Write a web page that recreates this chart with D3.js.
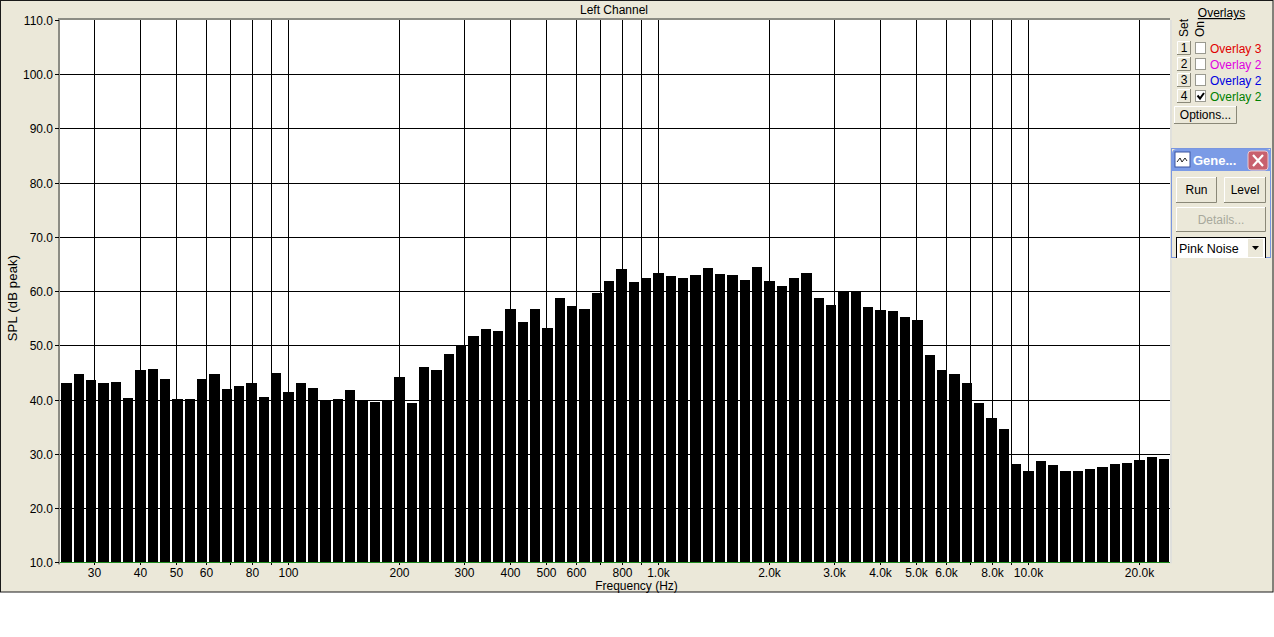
<!DOCTYPE html>
<html><head><meta charset="utf-8">
<script src="https://cdnjs.cloudflare.com/ajax/libs/d3/7.8.5/d3.min.js"></script>
<style>
html,body{margin:0;padding:0;background:#fff;overflow:hidden}
svg{display:block}
text{font-family:"Liberation Sans",Arial,sans-serif;font-size:12px;fill:#000}
</style></head><body><svg id="c" width="1274" height="637"></svg>
<script>
const frequencies=[25.12,27.12,29.29,31.62,34.15,36.87,39.81,42.99,46.42,50.12,54.12,58.43,63.10,68.13,73.56,79.43,85.77,92.61,
100,107.98,116.59,125.89,135.94,146.78,158.49,171.13,184.79,199.53,215.44,232.63,251.19,271.23,292.87,316.23,341.46,368.7,398.11,429.87,464.16,501.19,541.17,584.35,630.96,681.29,735.64,794.33,857.7,926.12,
1000,1079.8,1165.9,1258.9,1359.4,1467.8,1584.9,1711.3,1847.8,1995.3,2154.4,2326.3,2511.9,2712.3,2928.7,3162.3,3414.6,3687,3981.1,4298.7,4641.6,5011.9,5411.7,5843.5,6309.6,6812.9,7356.4,7943.3,8577,9261.2,
10000,10798,11659,12589,13594,14678,15849,17113,18478,19953,21544,23263];
const splValues=[43.2,44.7,43.6,43.2,43.4,40.4,45.6,45.8,43.9,40.2,40.2,43.9,44.7,42.1,42.6,43.2,40.6,44.9,41.4,43.2,42.3,
40.0,40.2,41.9,40.0,39.7,40.0,44.3,39.5,46.1,45.6,48.5,50.2,51.8,53.1,52.7,56.8,54.4,56.8,53.3,58.8,57.3,56.8,59.7,61.9,64.1,61.7,
62.4,63.4,62.8,62.4,63.0,64.3,63.2,63.0,62.1,64.5,61.9,61.0,62.4,63.5,58.8,57.5,60.0,60.0,57.1,56.6,56.4,55.3,54.7,48.3,45.6,44.8,
43.2,39.5,36.7,34.7,28.2,26.9,28.8,28.0,26.9,26.9,27.3,27.7,28.2,28.4,29.0,29.5,29.1];
const gridFreqs=[30,40,50,60,70,80,90,100,200,300,400,500,600,700,800,900,1000,2000,3000,4000,5000,6000,7000,8000,9000,10000,20000];
const unlabeledFreqs=[70,90,700,900,7000,9000];
const yTicks=[10,20,30,40,50,60,70,80,90,100,110];
const overlayNames=["Overlay 3","Overlay 2","Overlay 2","Overlay 2"];
const overlayColors=["#e00000","#e000e0","#0000e0","#008000"];
const overlayChecked=[false,false,false,true];

const svg=d3.select("#c");
const BG="#ebe8d9";
const L=60,R=1170,T=20,B=562.4;
const x=d3.scaleLog().domain([100,10000]).range([288.15,1028.15]);
const y=d3.scaleLinear().domain([10,110]).range([B,T]);

// window background
svg.append("rect").attr("x",0).attr("y",0).attr("width",1274).attr("height",592).attr("fill",BG);
svg.append("rect").attr("x",0.5).attr("y",0.5).attr("width",1272.5).attr("height",591.5).attr("fill","none").attr("stroke","#1a1a1a");

// plot
svg.append("rect").attr("x",L).attr("y",T).attr("width",R-L).attr("height",B-T).attr("fill","#fff");
svg.append("rect").attr("x",R).attr("y",T).attr("width",2).attr("height",B-T+1).attr("fill","#e0e0dc");
svg.append("rect").attr("x",L-2).attr("y",T-2).attr("width",R-L+2).attr("height",2).attr("fill","#8c8c84");
svg.append("rect").attr("x",L-2).attr("y",T-2).attr("width",2).attr("height",B-T+4).attr("fill","#8c8c84");

// axes with gridlines
const fmt=f=>unlabeledFreqs.includes(f)?"":(f>=1000?(f/1000).toFixed(1)+"k":String(f));
const xAxis=d3.axisBottom(x).tickValues(gridFreqs).tickFormat(fmt).tickSizeOuter(0).tickSizeInner(B-T+3).tickPadding(3);
const xg=svg.append("g").attr("transform",`translate(0,${T})`).call(xAxis);
xg.select(".domain").remove();
xg.selectAll(".tick").attr("transform",d=>`translate(${Math.floor(x(d))+.5},0)`);
xg.selectAll("line").attr("stroke","#000").attr("shape-rendering","crispEdges");
xg.selectAll("text").style("font-size","12px").attr("fill","#000");

const yAxis=d3.axisLeft(y).tickValues(yTicks).tickFormat(d=>d.toFixed(1)).tickSizeOuter(0).tickSizeInner(4).tickPadding(1);
const yg=svg.append("g").attr("transform",`translate(${L-1},0)`).call(yAxis);
yg.select(".domain").remove();
yg.selectAll(".tick").attr("transform",d=>`translate(0,${Math.round(y(d))+.5})`);
yg.selectAll("line").attr("x2",-4).attr("stroke","#000").attr("shape-rendering","crispEdges");
yg.selectAll("text").style("font-size","12px").attr("fill","#000").attr("x",-6).attr("y",0.5);
svg.append("g").selectAll("line").data(yTicks.slice(1,-1)).join("line")
  .attr("x1",L).attr("x2",R).attr("y1",d=>Math.round(y(d))+.5).attr("y2",d=>Math.round(y(d))+.5)
  .attr("stroke","#000").attr("shape-rendering","crispEdges");

// bars
const barLeft=d=>Math.ceil(x(d)-5.2), barRight=d=>Math.floor(x(d)+5.9);
const barTop=v=>Math.round(y(v)+0.3);
svg.append("g").selectAll("rect").data(frequencies).join("rect")
  .attr("x",barLeft)
  .attr("width",d=>barRight(d)-barLeft(d))
  .attr("y",(d,i)=>barTop(splValues[i]))
  .attr("height",(d,i)=>562-barTop(splValues[i]))
  .attr("fill","#000");
svg.append("line").attr("x1",L).attr("x2",R).attr("y1",562.5).attr("y2",562.5).attr("stroke","#1f8a1f").attr("shape-rendering","crispEdges");

// titles
svg.append("text").attr("x",614).attr("y",13.5).attr("text-anchor","middle").text("Left Channel");
svg.append("text").attr("x",636.5).attr("y",590).attr("text-anchor","middle").text("Frequency (Hz)");
svg.append("text").attr("transform","translate(17,298) rotate(-90)").attr("text-anchor","middle").style("font-size","13px").style("letter-spacing","0.2px").text("SPL (dB peak)");

// helpers for UI
function button(px,py,w,h,label,opt={}){
  const g=svg.append("g");
  g.append("rect").attr("x",px).attr("y",py).attr("width",w).attr("height",h).attr("fill",BG);
  g.append("path").attr("d",`M${px+.5} ${py+h}V${py+.5}H${px+w}`).attr("fill","none").attr("stroke","#fff");
  g.append("path").attr("d",`M${px} ${py+h-.5}H${px+w-.5}V${py}`).attr("fill","none").attr("stroke","#8a8878");
  g.append("text").attr("x",px+w/2).attr("y",py+h/2+3.5+(opt.dy||0)).attr("text-anchor","middle").style("fill",opt.color||"#000").text(label);
}
// overlays panel
svg.append("text").attr("x",1221.5).attr("y",17).attr("text-anchor","middle").attr("text-decoration","underline").text("Overlays");
svg.append("text").attr("transform","translate(1188,37) rotate(-90)").text("Set");
svg.append("text").attr("transform","translate(1204,37) rotate(-90)").text("On");
overlayNames.forEach((n,i)=>{
  const py=41+i*16;
  button(1177,py,14,14,String(i+1));
  svg.append("rect").attr("x",1195.5).attr("y",py+1.5).attr("width",10).attr("height",11).attr("fill","#fff").attr("stroke","#9a9a90");
  if(overlayChecked[i]) svg.append("path").attr("d",`M${1197.5} ${py+6.5}l2.5 3l4-5.5`).attr("fill","none").attr("stroke","#000").attr("stroke-width",2);
  svg.append("text").attr("x",1210).attr("y",py+12).style("fill",overlayColors[i]).text(n);
});
button(1174,106,63,18,"Options...");

// generator window
svg.append("rect").attr("x",1171.5).attr("y",148.5).attr("width",99).attr("height",109).attr("fill",BG).attr("stroke","#7a96df");
svg.append("path").attr("d","M1172 171V154q0-5 5-5h89q5 0 5 5V171Z").attr("fill","#7b9be6");
svg.append("rect").attr("x",1175).attr("y",152).attr("width",15).attr("height",15).attr("fill","#fff").attr("stroke","#3a55a0");
svg.append("path").attr("d","M1177 162l3-4 2 4 3-4 2 3").attr("fill","none").attr("stroke","#222");
svg.append("text").attr("x",1193).attr("y",165).style("font-weight","bold").style("font-size","13px").style("fill","#fff").text("Gene...");
svg.append("rect").attr("x",1248).attr("y",151).attr("width",20).attr("height",19).attr("rx",3).attr("fill","#c8606e").attr("stroke","#e8c8d0");
svg.append("path").attr("d","M1253 155l10 11M1263 155l-10 11").attr("stroke","#fff").attr("stroke-width",2.2);
button(1176,177,41,26,"Run");
button(1224,177,42,26,"Level");
button(1176,207,90,25,"Details...",{color:"#a8a89c",dy:1});
svg.append("rect").attr("x",1176.5).attr("y",237.5).attr("width",89).attr("height",21).attr("fill","#fff").attr("stroke","#000");
svg.append("text").attr("x",1179).attr("y",253).style("font-size","12.5px").text("Pink Noise");
svg.append("rect").attr("x",1248).attr("y",239).attr("width",15).attr("height",18).attr("fill",BG);
svg.append("path").attr("d","M1252 246h7l-3.5 4Z").attr("fill","#000");
svg.append("rect").attr("x",1171).attr("y",258).attr("width",101).attr("height",2).attr("fill",BG);
</script></body></html>
